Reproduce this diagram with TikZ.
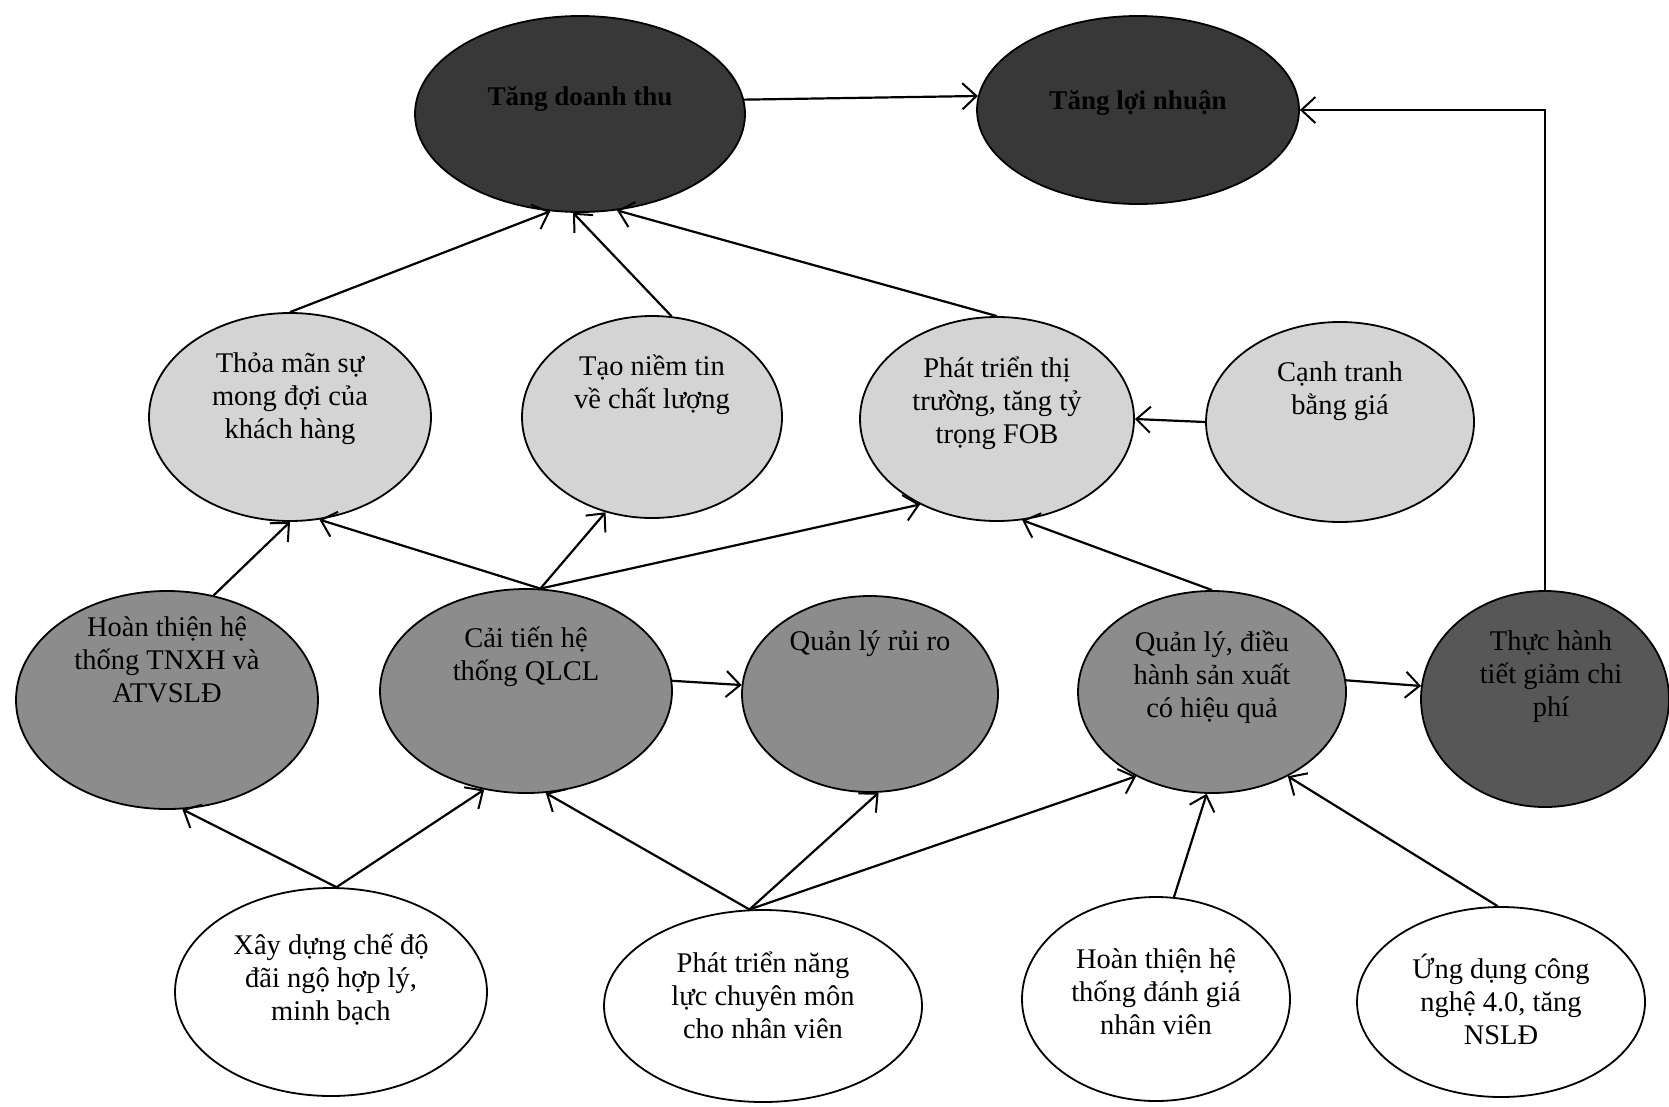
\documentclass[tikz,border=0pt]{standalone}
\usepackage{fontspec}
\setmainfont{Liberation Serif}
\usetikzlibrary{shapes.geometric,arrows.meta}

\begin{document}
\begin{tikzpicture}[x=1pt,y=-1pt,line width=2.2pt]
    \tikzstyle{arr}=[-{Straight Barb[length=14pt,width=26pt,line width=2pt]}]
    \tikzstyle{oval}=[ellipse,draw,line width=1.8pt,inner sep=0pt]
    \tikzstyle{top}=[oval,fill=black!78]
    \tikzstyle{mid}=[oval,fill=black!17]
    \tikzstyle{act}=[oval,fill=black!45]
    \tikzstyle{cost}=[oval,fill=black!66]
    \tikzstyle{base}=[oval,fill=white]
    \tikzstyle{txt}=[align=center,font=\fontsize{28.5}{33}\selectfont]
    \tikzstyle{toptxt}=[align=center,font=\fontsize{27}{33}\selectfont\bfseries]

    \useasboundingbox (0,0) rectangle (1669,1106);

    % goals
    \node[top,minimum width=330,minimum height=196,label={[toptxt,yshift=15pt]center:Tăng doanh thu}] (dt) at (580,114) {};
    \node[top,minimum width=322,minimum height=188,label={[toptxt,yshift=7pt]center:Tăng lợi nhuận}] (ln) at (1138,110) {};

    % customer row
    \node[mid,minimum width=282,minimum height=208,label={[txt,yshift=18pt]center:{Thỏa mãn sự\\mong đợi của\\khách hàng}}] (thoa) at (290,417) {};
    \node[mid,minimum width=260,minimum height=202,label={[txt,yshift=32pt]center:{Tạo niềm tin\\về chất lượng}}] (niemtin) at (652,417) {};
    \node[mid,minimum width=274,minimum height=204,label={[txt,yshift=16pt]center:{Phát triển thị\\trường, tăng tỷ\\trọng FOB}}] (thitruong) at (997,419) {};
    \node[mid,minimum width=268,minimum height=200,label={[txt,yshift=31pt]center:{Cạnh tranh\\bằng giá}}] (canhtranh) at (1340,422) {};

    % process row
    \node[act,minimum width=302,minimum height=218,label={[txt,yshift=40pt]center:{Hoàn thiện hệ\\thống TNXH và\\ATVSLĐ}}] (tnxh) at (167,700) {};
    \node[act,minimum width=292,minimum height=204,label={[txt,yshift=34pt]center:{Cải tiến hệ\\thống QLCL}}] (qlcl) at (526,691) {};
    \node[act,minimum width=256,minimum height=196,label={[txt,yshift=50pt]center:Quản lý rủi ro}] (ruiro) at (870,694) {};
    \node[act,minimum width=268,minimum height=202,label={[txt,yshift=15pt]center:{Quản lý, điều\\hành sản xuất\\có hiệu quả}}] (dieuhanh) at (1212,692) {};
    \node[cost,minimum width=248,minimum height=216,label={[txt,yshift=22pt,xshift=6pt]center:{Thực hành\\tiết giảm chi\\phí}}] (chiphi) at (1545,699) {};

    % learning row
    \node[base,minimum width=312,minimum height=208,label={[txt,yshift=12pt]center:{Xây dựng chế độ\\đãi ngộ hợp lý,\\minh bạch}}] (daingo) at (331,992) {};
    \node[base,minimum width=318,minimum height=192,label={[txt,yshift=11pt]center:{Phát triển năng\\lực chuyên môn\\cho nhân viên}}] (nangluc) at (763,1006) {};
    \node[base,minimum width=268,minimum height=204,label={[txt,yshift=7pt]center:{Hoàn thiện hệ\\thống đánh giá\\nhân viên}}] (danhgia) at (1156,999) {};
    \node[base,minimum width=288,minimum height=190,label={[txt,yshift=3pt]center:{Ứng dụng công\\nghệ 4.0, tăng\\NSLĐ}}] (ungdung) at (1501,1002) {};

    \draw[arr] (dt.5) -- (ln.175);
    \draw[arr] (chiphi.north) |- (ln.east);
    \draw[arr] (thoa.north) -- (dt.253);
    \draw[arr] (niemtin.79) -- (dt.266);
    \draw[arr] (thitruong.north) -- (dt.291);
    \draw[arr] (canhtranh.west) -- (thitruong.east);

    \draw[arr] (tnxh.66) -- (thoa.south);
    \draw[arr] (qlcl.82) -- (thoa.286);
    \draw[arr] (qlcl.82) -- (niemtin.244);
    \draw[arr] (qlcl.82) -- (thitruong.228);
    \draw[arr] (dieuhanh.north) -- (thitruong.284);
    \draw[arr] (qlcl.4) -- (ruiro.176);
    \draw[arr] (dieuhanh.5) -- (chiphi.174);

    \draw[arr] (daingo.87) -- (tnxh.278);
    \draw[arr] (daingo.87) -- (qlcl.247);
    \draw[arr] (nangluc.98) -- (qlcl.281);
    \draw[arr] (nangluc.98) -- (ruiro.275);
    \draw[arr] (nangluc.98) -- (dieuhanh.228);
    \draw[arr] (danhgia.80) -- (dieuhanh.267);
    \draw[arr] (ungdung.92) -- (dieuhanh.312);
\end{tikzpicture}
\end{document}
